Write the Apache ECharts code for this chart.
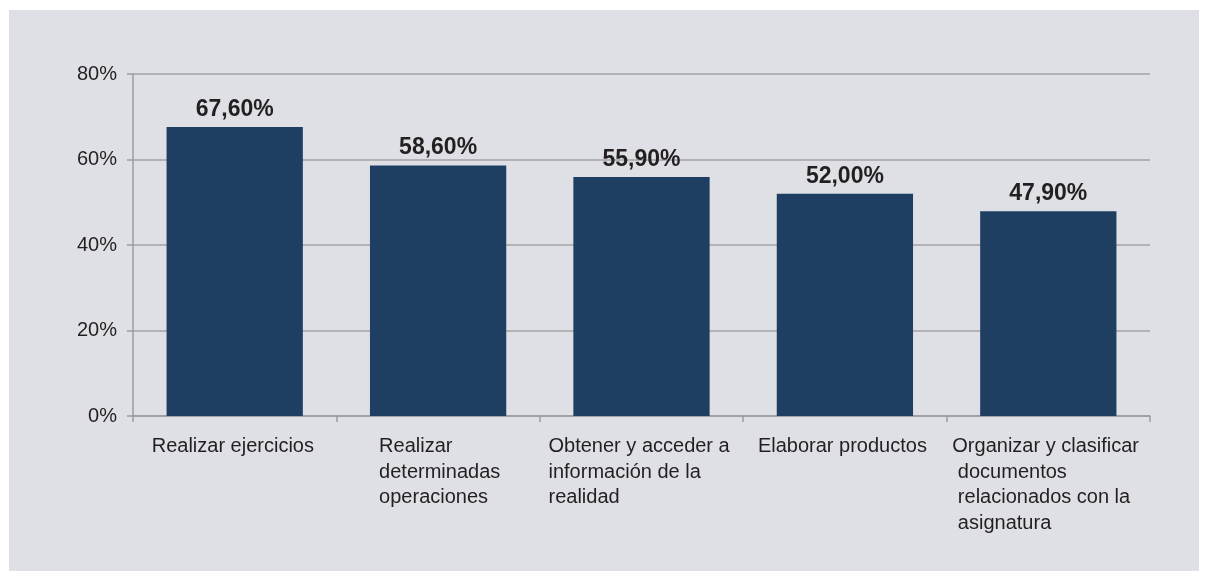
<!DOCTYPE html>
<html>
<head>
<meta charset="utf-8">
<script src="https://cdn.jsdelivr.net/npm/echarts@6/dist/echarts.min.js"></script>
<style>
  html, body { margin: 0; padding: 0; background: #ffffff; }
  #panel { position: absolute; left: 9px; top: 10px; width: 1190px; height: 561px; background: #dfe0e5; }
  #container { width: 1208px; height: 581px; position: absolute; left: 0; top: 0; }
</style>
</head>
<body>
<div id="panel"></div>
<div id="container"></div>
<script>
// categories (line breaks as in the original)
var categories = [
    'Realizar ejercicios',
    'Realizar\ndeterminadas\noperaciones',
    'Obtener y acceder a\ninformación de la\nrealidad',
    'Elaborar productos',
    'Organizar y clasificar\n documentos\n relacionados con la\n asignatura'
];
var values = [67.6, 58.6, 55.9, 52.0, 47.9];
var yTicks = [0, 20, 40, 60, 80];

// block width for each label so lines stay left aligned
var labelWidths = [166, 118, 186, 174, 192];

var rich = {};
labelWidths.forEach(function (w, i) {
    rich['c' + i] = {
        width: w,
        align: 'left',
        fontSize: 20,
        lineHeight: 25.5,
        color: '#231f20',
        fontFamily: 'Liberation Sans, Arial, sans-serif'
    };
});

var dom = document.getElementById('container');
var myChart = echarts.init(dom, null, { renderer: 'canvas' });

var option = {
    backgroundColor: 'transparent',
    animation: false,
    grid: { left: 133, right: 58, top: 74, bottom: 165, containLabel: false },
    xAxis: {
        type: 'category',
        data: categories,
        axisLine: { lineStyle: { color: '#9c9c9e', width: 1.5 } },
        axisTick: { show: true, length: 6, lineStyle: { color: '#9c9c9e', width: 1.5 } },
        axisLabel: {
            interval: 0,
            margin: 18,
            formatter: function (v, idx) {
                return v.split('\n').map(function (line) {
                    return '{c' + idx + '|' + line + '}';
                }).join('\n');
            },
            rich: rich
        }
    },
    yAxis: {
        type: 'value',
        min: yTicks[0],
        max: yTicks[yTicks.length - 1],
        interval: 20,
        axisLine: { show: true, lineStyle: { color: '#9c9c9e', width: 1.5 } },
        axisTick: { show: true, length: 6, lineStyle: { color: '#9c9c9e', width: 1.5 } },
        splitLine: { lineStyle: { color: '#a3a3a5', width: 1.5 } },
        axisLabel: {
            margin: 16,
            fontSize: 20,
            color: '#231f20',
            fontFamily: 'Liberation Sans, Arial, sans-serif',
            formatter: '{value}%'
        }
    },
    series: [{
        type: 'bar',
        data: values,
        barCategoryGap: '33%',
        itemStyle: { color: '#1e3f62' },
        label: {
            show: true,
            position: 'top',
            distance: 6,
            fontSize: 23,
            fontWeight: 'bold',
            color: '#231f20',
            fontFamily: 'Liberation Sans, Arial, sans-serif',
            formatter: function (p) {
                return p.value.toFixed(2).replace('.', ',') + '%';
            }
        }
    }]
};

myChart.setOption(option);
</script>
</body>
</html>
